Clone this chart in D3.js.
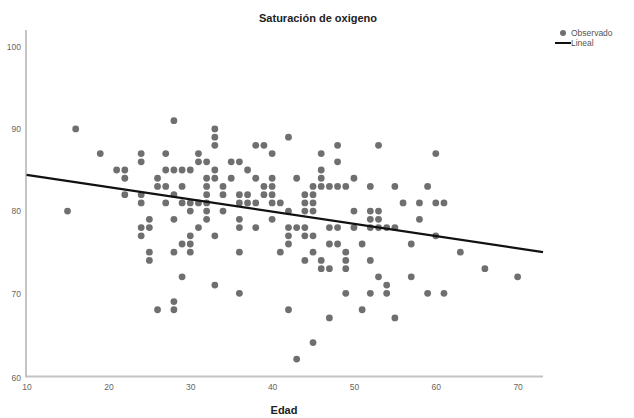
<!DOCTYPE html>
<html><head><meta charset="utf-8">
<script src="https://cdn.jsdelivr.net/npm/d3@7/dist/d3.min.js"></script>
<style>
html,body{margin:0;padding:0;background:#fff;}
text{font-family:"Liberation Sans",Arial,sans-serif;}
</style></head>
<body><svg id="chart" width="634" height="418"></svg>
<script>
// Observed points: [Edad, Saturación]
const ages = [28,16,33,33,42,33,38,39,48,53,19,24,27,31,40,46,60,24,31,32,35,36,48,
 21,22,27,28,29,30,33,37,46,22,26,32,33,35,38,40,43,46,50,
 26,27,29,32,34,39,40,45,46,47,48,49,52,55,59,
 22,24,28,32,34,36,37,39,40,44,45,
 24,27,29,30,31,32,36,37,38,40,41,44,45,56,58,60,61,
 15,30,32,34,42,44,45,50,52,53,
 25,28,32,36,40,52,53,58,
 24,25,31,36,38,42,43,44,47,48,50,52,53,54,55,
 24,30,33,42,44,45,60,
 29,30,42,47,48,51,57,
 25,28,30,36,41,45,49,63,
 25,44,46,49,52,
 46,47,49,66,
 29,53,57,70,
 33,54,
 36,49,52,54,59,61,
 28,
 26,28,42,51,
 47,55,
 45,
 43];
const saturation = [91,90,90,89,89,88,88,88,88,88,87,87,87,87,87,87,87,86,86,86,86,86,86,
 85,85,85,85,85,85,85,85,85,84,84,84,84,84,84,84,84,84,84,
 83,83,83,83,83,83,83,83,83,83,83,83,83,83,83,
 82,82,82,82,82,82,82,82,82,82,82,
 81,81,81,81,81,81,81,81,81,81,81,81,81,81,81,81,81,
 80,80,80,80,80,80,80,80,80,80,
 79,79,79,79,79,79,79,79,
 78,78,78,78,78,78,78,78,78,78,78,78,78,78,78,
 77,77,77,77,77,77,77,
 76,76,76,76,76,76,76,
 75,75,75,75,75,75,75,75,
 74,74,74,74,74,
 73,73,73,73,
 72,72,72,72,
 71,71,
 70,70,70,70,70,70,
 69,
 68,68,68,68,
 67,67,
 64,
 62];
// Linear fit: [intercept, slope]
const fitCoef = [85.9, -0.149];
const xTicks = [10,20,30,40,50,60,70];
const yTicks = [60,70,80,90,100];
const xDomain = [10, 73.1];
const yDomain = [60, 102];
const titleText = "Saturación de oxigeno";
const xTitle = "Edad";
const legendLabels = ["Observado","Lineal"];

const svg = d3.select("#chart");
const x = d3.scaleLinear().domain(xDomain).range([26.6, 543]);
const y = d3.scaleLinear().domain(yDomain).range([375.5, 30.3]);

// axes
const xAxis = svg.append("g").attr("transform","translate(0,376.5)")
  .call(d3.axisBottom(x).tickValues(xTicks).tickSize(0).tickPadding(6).tickFormat(d3.format("d")));
xAxis.select(".domain").attr("d","M26,0H543");
const yAxis = svg.append("g").attr("transform","translate(26,0)")
  .call(d3.axisLeft(y).tickValues(yTicks).tickSize(0).tickPadding(5).tickFormat(d3.format("d")));
yAxis.select(".domain").attr("d","M0,30V377.5");
[xAxis,yAxis].forEach(a=>{
  a.select(".domain").attr("stroke","#c4c4c4").attr("stroke-width",2);
  a.selectAll("text").attr("fill","#666").style("font-size","8.5px").style("font-family","'Liberation Sans',Arial,sans-serif");
});
xAxis.selectAll("text").attr("dy","0.9em");
yAxis.selectAll(".tick").filter(d=>d===60).select("text").attr("dy","0.6em");

// points
const pts = ages.map((a,i)=>[a, saturation[i]]);
svg.append("g").selectAll("circle").data(pts).join("circle")
  .attr("cx",d=>x(d[0])).attr("cy",d=>y(d[1])).attr("r",3.4)
  .attr("fill","#6f6f6f");

// fit line
const fit = a => fitCoef[0] + fitCoef[1]*a;
svg.append("line")
  .attr("x1",x(xDomain[0])).attr("y1",y(fit(xDomain[0])))
  .attr("x2",x(xDomain[1])).attr("y2",y(fit(xDomain[1])))
  .attr("stroke","#111").attr("stroke-width",2.2);

// title
svg.append("text").attr("x",318).attr("y",22).attr("text-anchor","middle")
  .style("font-size","11px").style("font-weight","bold").attr("fill","#222").text(titleText);
svg.append("text").attr("x",284).attr("y",414).attr("text-anchor","middle")
  .style("font-size","11px").style("font-weight","bold").attr("fill","#222").text(xTitle);

// legend
const lg = svg.append("g");
lg.append("circle").attr("cx",563).attr("cy",33).attr("r",3).attr("fill","#6f6f6f");
lg.append("text").attr("x",571).attr("y",36).style("font-size","8.5px").attr("fill","#555").text(legendLabels[0]);
lg.append("line").attr("x1",555).attr("x2",571).attr("y1",43).attr("y2",43).attr("stroke","#111").attr("stroke-width",2);
lg.append("text").attr("x",571).attr("y",46).style("font-size","8.5px").attr("fill","#555").text(legendLabels[1]);
</script></body></html>
